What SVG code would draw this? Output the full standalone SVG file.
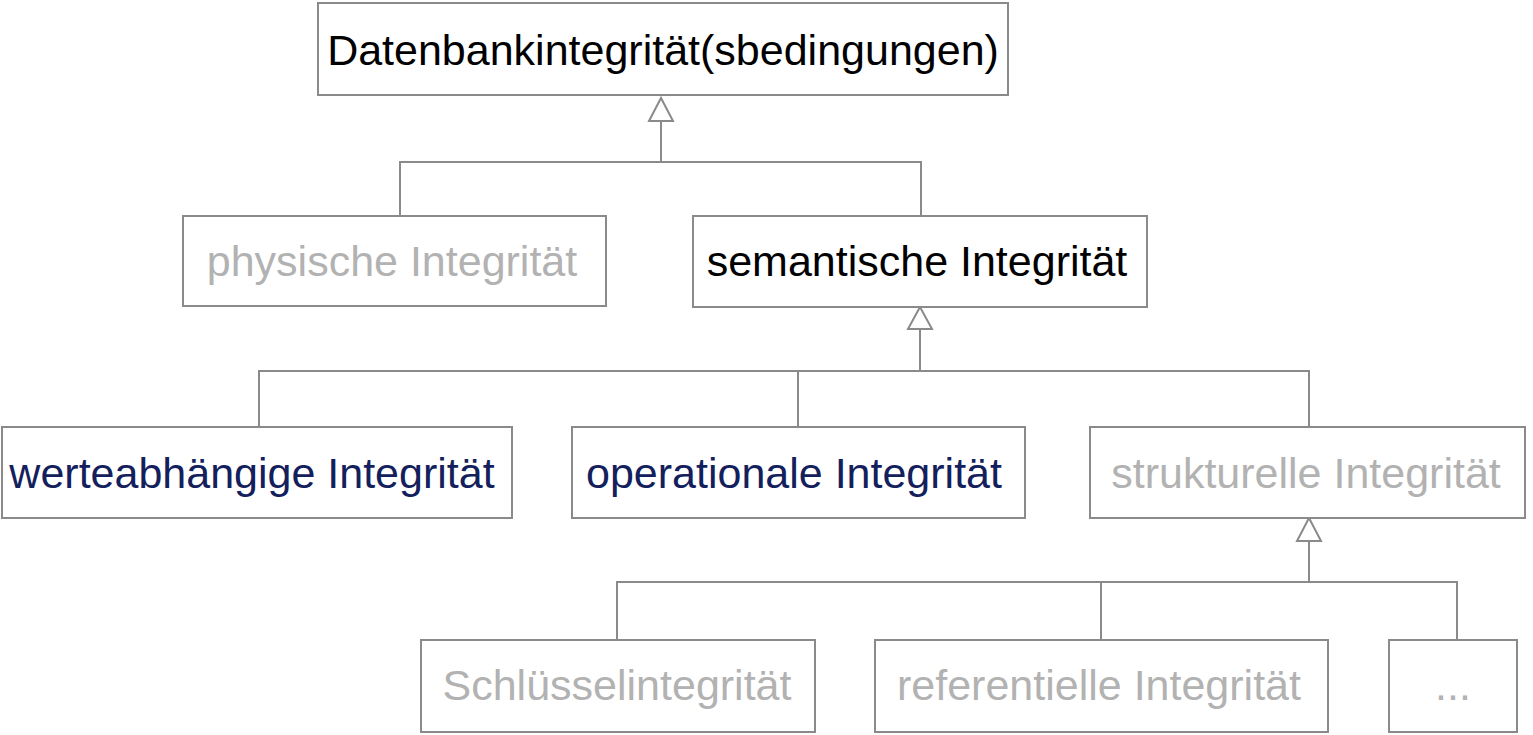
<svg xmlns="http://www.w3.org/2000/svg" width="1533" height="735" viewBox="0 0 1533 735">
<style>
.box{fill:#fff;stroke:#8a8a8a;stroke-width:2}
.t{font-family:"Liberation Sans",Arial,sans-serif;font-size:43px;text-anchor:middle}
.black{fill:#000}
.navy{fill:#13205c}
.grey{fill:#b2b2b2}
.c{fill:none;stroke:#8a8a8a;stroke-width:2}
.head{fill:#fff;stroke:#8a8a8a;stroke-width:2}
</style>
<g id="connectors">
<path class="c" d="M400 216V162H921V216M661 162V121"/>
<polygon class="head" points="661,98 649,121 673,121"/>
<path class="c" d="M259 428V371H1309V428M798 371V428M920 371V329"/>
<polygon class="head" points="920,307 908,329 932,329"/>
<path class="c" d="M617 640V582H1457V640M1101 582V642M1309 582V541"/>
<polygon class="head" points="1309,518 1297,541 1321,541"/>
</g>
<g id="n-datenbank"><rect class="box" x="318" y="3" width="690" height="92"/><text class="t black" x="663" y="65">Datenbankintegrität(sbedingungen)</text></g>
<g id="n-physisch"><rect class="box" x="183" y="216" width="423" height="90"/><text class="t grey" x="392" y="276">physische Integrität</text></g>
<g id="n-semantisch"><rect class="box" x="693" y="216" width="454" height="91"/><text class="t black" x="917" y="276">semantische Integrität</text></g>
<g id="n-werte"><rect class="box" x="2" y="427" width="510" height="91"/><text class="t navy" x="252" y="488">werteabhängige Integrität</text></g>
<g id="n-operational"><rect class="box" x="572" y="427" width="453" height="91"/><text class="t navy" x="794" y="488">operationale Integrität</text></g>
<g id="n-strukturell"><rect class="box" x="1090" y="427" width="435" height="91"/><text class="t grey" x="1306" y="488">strukturelle Integrität</text></g>
<g id="n-schluessel"><rect class="box" x="421" y="640" width="394" height="92"/><text class="t grey" x="617" y="700">Schlüsselintegrität</text></g>
<g id="n-referentiell"><rect class="box" x="875" y="640" width="453" height="92"/><text class="t grey" x="1099" y="700">referentielle Integrität</text></g>
<g id="n-more"><rect class="box" x="1389" y="640" width="128" height="92"/><text class="t grey" x="1453" y="700">...</text></g>
</svg>
